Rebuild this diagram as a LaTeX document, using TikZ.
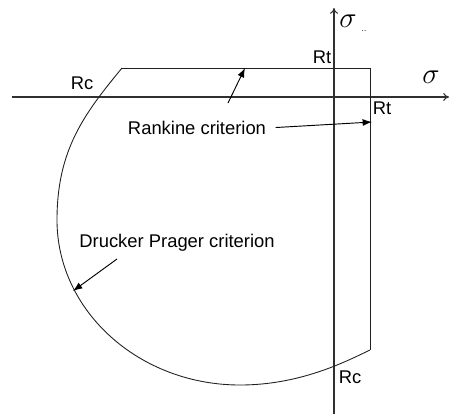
\documentclass[tikz,border=0pt]{standalone}
\usepackage{fontspec}
\setmainfont{Liberation Sans}
\usetikzlibrary{arrows.meta}
\definecolor{DPLine}{HTML}{202020}
\definecolor{DPAxis}{HTML}{303030}

\begin{document}
\begin{tikzpicture}[x=0.03cm,y=-0.03cm,
  axis/.style={DPAxis,line width=.9pt,-{To[length=5pt,width=7pt]}},
  yield/.style={DPLine,line width=.75pt},
  pointer/.style={black,line width=.8pt,-{Latex[length=8pt,width=6pt]}},
  lbl/.style={inner sep=1pt,font=\fontsize{15.7}{18}\selectfont},
  sig/.style={inner sep=0pt,font=\fontsize{26}{30}\selectfont}]
\path[use as bounding box] (0,0) rectangle (451,414);
% axes
\draw[axis] (12,97) -- (449,97);
\draw[axis] (334,414) -- (334,8);
\node[sig] (sigv) at (348,21) {$\sigma$};
\node[inner sep=0pt,font=\scriptsize] (sigsub) at (364,31) {..};
\node[sig] (sigh) at (431,77) {$\sigma$};
% Rankine box and Drucker Prager curve
\draw[yield] (122,68) -- (370,68) -- (370,350);
\draw[yield] (122,68) .. controls (84,114) and (57,150) .. (57,220)
  .. controls (57,311) and (139,385) .. (240,385)
  .. controls (300,385) and (345,362) .. (370,350);
\node[lbl] (rcleft) at (82,83) {Rc};
\node[lbl] (rttop) at (322,57) {Rt};
\node[lbl] (rtright) at (382,108) {Rt};
\node[lbl] (rcbottom) at (350,377) {Rc};
% labels and pointers
\node[lbl] (rankine) at (197,128) {Rankine criterion};
\node[lbl,anchor=west] (drucker) at (78,243) {Drucker Prager criterion};
\coordinate (rktail) at (228,103);
\coordinate (rktop) at (245,68);
\coordinate (rkside) at (372,122);
\coordinate (dptail) at (117,259);
\coordinate (dpcurve) at (73,291);
\draw[pointer] (rktail) -- (rktop);
\draw[pointer,shorten <=7pt] (rankine.east) -- (rkside);
\draw[pointer] (dptail) -- (dpcurve);
\end{tikzpicture}
\end{document}
